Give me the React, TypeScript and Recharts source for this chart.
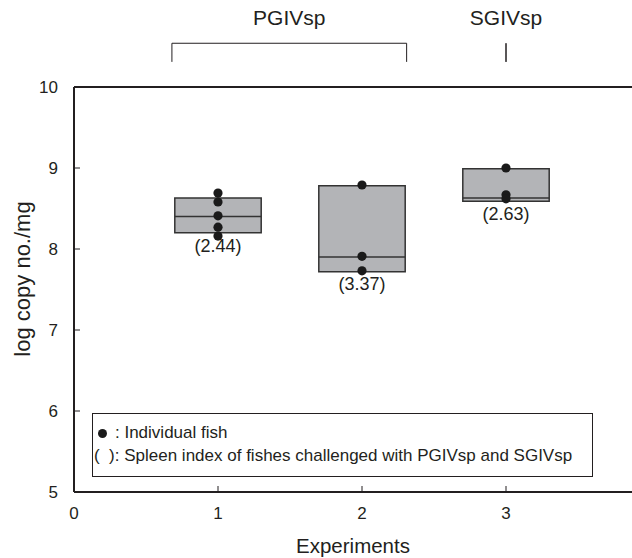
import React from 'react'
import {
  ComposedChart, XAxis, YAxis, Scatter, ReferenceArea, ReferenceLine, ReferenceDot, Label,
} from 'recharts'

// experiments and box summaries (log copy no./mg)
const experiments = [1, 2, 3]
const boxLow = [8.2, 7.72, 8.59]
const boxMedian = [8.4, 7.9, 8.63]
const boxHigh = [8.63, 8.78, 8.99]
const spleenIndex = ['(2.44)', '(3.37)', '(2.63)']

// individual fish
const fishExperiment = [1, 1, 1, 1, 1, 2, 2, 2, 3, 3, 3]
const fishLogCopy = [8.69, 8.58, 8.41, 8.27, 8.16, 8.79, 7.91, 7.73, 9.0, 8.67, 8.62]

// virus groups drawn above the plot
const groupNames = ['PGIVsp', 'SGIVsp']
const groupStart = [0.68, 3.0]
const groupEnd = [2.31, 3.0]

const xTicks = [0, 1, 2, 3]
const yTicks = [5, 6, 7, 8, 9, 10]

const INK = '#231f20'
const FONT = '"Liberation Sans", Arial, sans-serif'
const HALF = 0.3
const BRACKET_TOP = 10.54
const BRACKET_BOTTOM = 10.31
const GROUP_LABEL_Y = 10.86

const fish = fishExperiment.map((x, i) => ({ x, y: fishLogCopy[i] }))

const YTick = (props: any) => {
  const { x, y, payload } = props
  const v = payload.value
  return (
    <g>
      <text x={x - 16} y={y} dy="0.35em" textAnchor="end" fontSize={17} fill={INK} fontFamily={FONT}>
        {v}
      </text>
      {v !== 5 && v !== 10 && <line x1={x} x2={x + 6} y1={y} y2={y} stroke={INK} strokeWidth={1} />}
    </g>
  )
}

const XTick = (props: any) => {
  const { x, y, payload } = props
  const v = payload.value
  return (
    <g>
      <text x={x} y={y + 27} textAnchor="middle" fontSize={17} fill={INK} fontFamily={FONT}>
        {v}
      </text>
      {v !== 0 && <line x1={x} x2={x} y1={y} y2={y - 6} stroke={INK} strokeWidth={1} />}
    </g>
  )
}

const FishDot = (props: any) => <circle cx={props.cx} cy={props.cy} r={4.6} fill="#1a1a1a" />

export default function App() {
  return (
    <div style={{ position: 'absolute', left: 0, top: 0, width: 632, height: 558, background: '#fff' }}>
      <ComposedChart width={632} height={558} margin={{ top: 87, right: 0, bottom: 0, left: 0 }}>
        <XAxis
          type="number"
          dataKey="x"
          domain={[0, 3.875]}
          ticks={xTicks}
          allowDataOverflow
          height={66}
          tickSize={0}
          tickMargin={0}
          tickLine={false}
          tick={<XTick />}
          axisLine={{ stroke: INK, strokeWidth: 2 }}
        >
          <Label
            content={() => (
              <text x={353} y={553} textAnchor="middle" fontSize={20.5} fill={INK} fontFamily={FONT}>
                Experiments
              </text>
            )}
          />
        </XAxis>
        <YAxis
          type="number"
          dataKey="y"
          domain={[5, 10]}
          ticks={yTicks}
          allowDataOverflow
          width={74}
          tickSize={0}
          tickMargin={0}
          tickLine={false}
          tick={<YTick />}
          axisLine={{ stroke: INK, strokeWidth: 2 }}
        >
          <Label
            content={() => (
              <text
                x={22}
                y={279}
                transform="rotate(-90 22 279)"
                textAnchor="middle"
                dominantBaseline="central"
                fontSize={22}
                fill={INK}
                fontFamily={FONT}
              >
                log copy no./mg
              </text>
            )}
          />
        </YAxis>

        <ReferenceLine y={10} stroke={INK} strokeWidth={2} ifOverflow="visible" />

        {experiments.map((e, i) => (
          <ReferenceArea
            key={'box' + e}
            x1={e - HALF}
            x2={e + HALF}
            y1={boxLow[i]}
            y2={boxHigh[i]}
            fill="#b3b4b7"
            fillOpacity={1}
            stroke="#333"
            strokeWidth={1.5}
            ifOverflow="visible"
          />
        ))}
        {experiments.map((e, i) => (
          <ReferenceLine
            key={'med' + e}
            segment={[{ x: e - HALF, y: boxMedian[i] }, { x: e + HALF, y: boxMedian[i] }]}
            stroke="#333"
            strokeWidth={1.5}
            ifOverflow="visible"
          />
        ))}
        {experiments.map((e, i) => (
          <ReferenceDot
            key={'si' + e}
            x={e}
            y={boxLow[i]}
            r={0}
            stroke="none"
            fill="none"
            ifOverflow="visible"
            label={{ value: spleenIndex[i], position: 'bottom', offset: 6, fontSize: 18, fill: INK, fontFamily: FONT }}
          />
        ))}

        <Scatter data={fish} shape={<FishDot />} isAnimationActive={false} />

        {groupNames.map((g, i) => (
          <ReferenceLine
            key={'gtop' + g}
            segment={[{ x: groupStart[i], y: BRACKET_TOP }, { x: groupEnd[i], y: BRACKET_TOP }]}
            stroke={INK}
            strokeWidth={1}
            ifOverflow="visible"
          />
        ))}
        {groupNames.map((g, i) => (
          <ReferenceLine
            key={'gl' + g}
            segment={[{ x: groupStart[i], y: BRACKET_TOP }, { x: groupStart[i], y: BRACKET_BOTTOM }]}
            stroke={INK}
            strokeWidth={1}
            ifOverflow="visible"
          />
        ))}
        {groupNames.map((g, i) => (
          <ReferenceLine
            key={'gr' + g}
            segment={[{ x: groupEnd[i], y: BRACKET_TOP }, { x: groupEnd[i], y: BRACKET_BOTTOM }]}
            stroke={INK}
            strokeWidth={1}
            ifOverflow="visible"
          />
        ))}
        {groupNames.map((g, i) => (
          <ReferenceDot
            key={'gn' + g}
            x={(groupStart[i] + groupEnd[i]) / 2}
            y={GROUP_LABEL_Y}
            r={0}
            stroke="none"
            fill="none"
            ifOverflow="visible"
            label={{ value: g, position: 'center', fontSize: 21, fill: INK, fontFamily: FONT }}
          />
        ))}
      </ComposedChart>

      <div
        style={{
          position: 'absolute',
          left: 92,
          top: 413,
          width: 501,
          height: 64,
          boxSizing: 'border-box',
          border: `1px solid ${INK}`,
          background: '#fff',
          fontFamily: FONT,
          fontSize: 17,
          color: INK,
          lineHeight: '23px',
          padding: '7px 0 0 0',
        }}
      >
        <div style={{ paddingLeft: 5 }}>
          <span style={{ display: 'inline-block', width: 9, height: 9, borderRadius: '50%', background: '#1a1a1a', marginRight: 8, verticalAlign: 'middle' }} />
          : Individual fish
        </div>
        <div style={{ paddingLeft: 1 }}>(&nbsp;&nbsp;): Spleen index of fishes challenged with PGIVsp and SGIVsp</div>
      </div>
    </div>
  )
}
